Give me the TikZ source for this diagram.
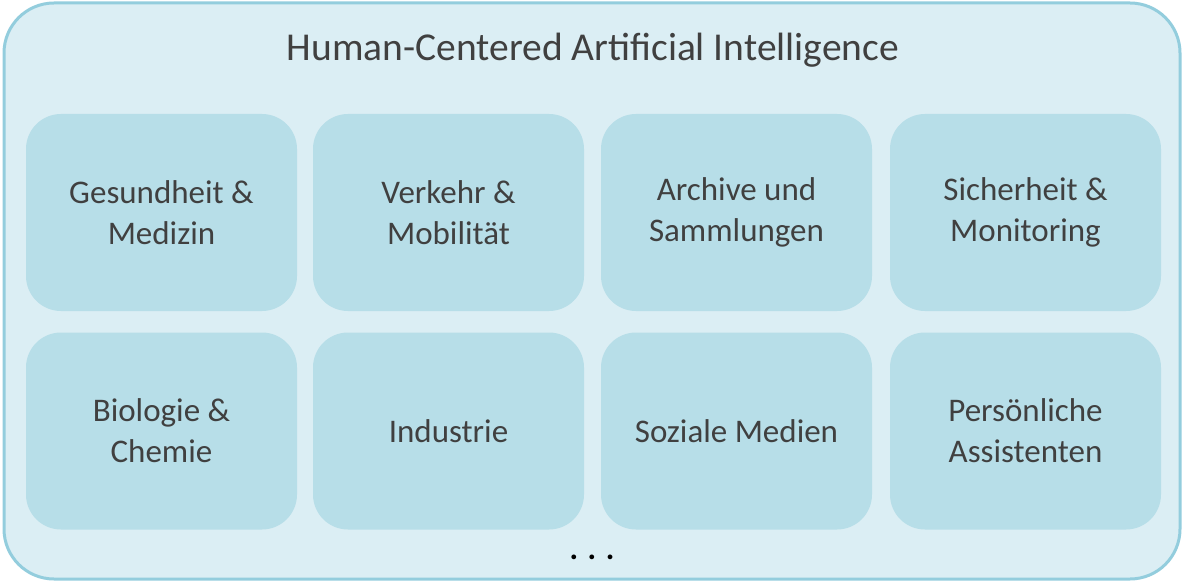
\documentclass[tikz,border=0pt]{standalone}
\usepackage{fontspec}
\setmainfont{Carlito}
\usepackage{tikz}

\definecolor{rimblue}{HTML}{93CDDD}
\definecolor{paleblue}{HTML}{DBEEF4}
\definecolor{tileblue}{HTML}{B7DEE8}
\definecolor{inkgray}{HTML}{404040}

\begin{document}
\begin{tikzpicture}[x=1pt,y=-1pt,
  outerbox/.style={draw=rimblue,fill=paleblue,line width=3pt,rounded corners=50pt,
    minimum width=1176pt,minimum height=576pt,inner sep=0pt},
  tile/.style={fill=tileblue,rounded corners=35pt,minimum width=271pt,
    minimum height=197pt,inner sep=0pt,text=inkgray,align=center,
    font=\fontsize{33}{41}\selectfont}]

\useasboundingbox (0,0) rectangle (1184,583);

\node[outerbox] (hcai) at (592,291) {};
\node[text=inkgray,font=\fontsize{39.5}{47}\selectfont] (title) at (593,50) {Human-Centered Artificial Intelligence};

\node[tile] (med) at (161.5,212.5) {Gesundheit \&\\Medizin};
\node[tile] (mob) at (448.5,212.5) {Verkehr \&\\Mobilität};
\node[tile] (arc) at (736.5,212.5) {Archive und\\Sammlungen};
\node[tile] (mon) at (1025.5,212.5) {Sicherheit \&\\Monitoring};
\node[tile] (bio) at (161.5,431) {Biologie \&\\Chemie};
\node[tile] (ind) at (448.5,431) {Industrie};
\node[tile] (soc) at (736.5,431) {Soziale Medien};
\node[tile] (ass) at (1025.5,431) {Persönliche\\Assistenten};

\node[font=\bfseries\fontsize{32}{36}\selectfont] (more) at (592,557) {. . .};

\end{tikzpicture}
\end{document}
